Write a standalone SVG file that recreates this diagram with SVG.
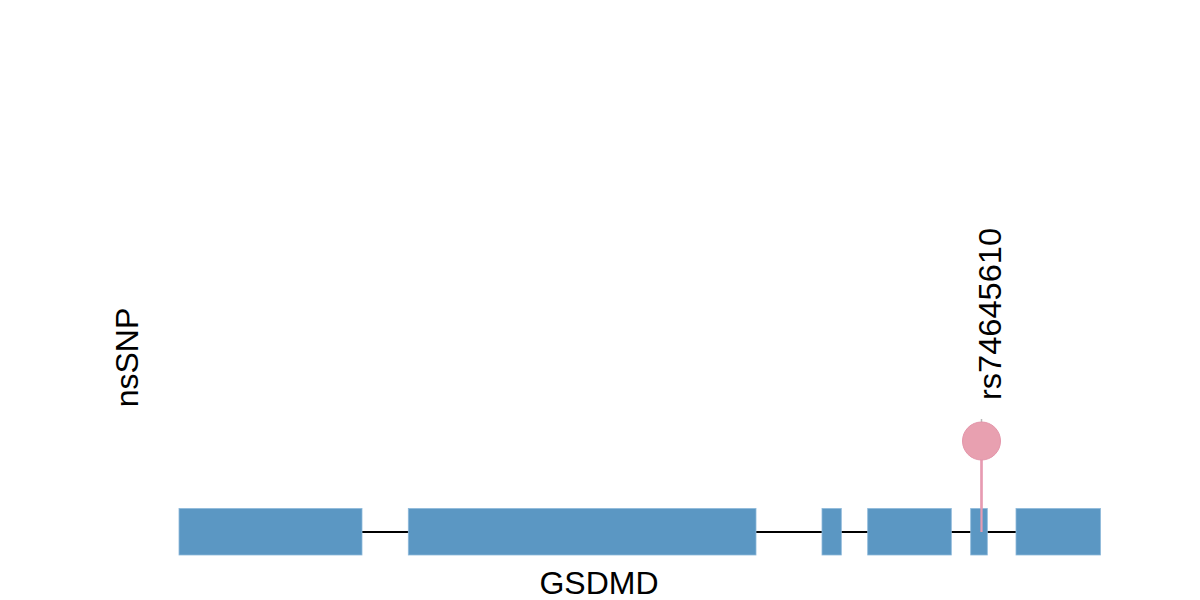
<svg xmlns="http://www.w3.org/2000/svg" width="1200" height="600" viewBox="0 0 1200 600">
<style>
.exon{fill:#5b97c3;stroke:#8db8da;stroke-width:0.8}
.lbl{font-family:"Liberation Sans",Arial,sans-serif;font-size:32px;fill:#000}
.intron{stroke:#000;stroke-width:2}
</style>
<rect width="1200" height="600" fill="#fff"/>
<g id="connectors">
<line class="intron" x1="362" y1="532" x2="1016" y2="532"/>
<line x1="981.5" y1="419" x2="981.5" y2="423" stroke="#b8b8b8" stroke-width="1.5"/>
<line x1="981.5" y1="441" x2="981.5" y2="532" stroke="#e79bb2" stroke-width="2.2"/>
</g>
<g id="exon1"><rect class="exon" x="179" y="508.5" width="183" height="46.5"/></g>
<g id="exon2"><rect class="exon" x="408.3" y="508.5" width="347.7" height="46.5"/></g>
<g id="exon3"><rect class="exon" x="822" y="508.5" width="19.3" height="46.5"/></g>
<g id="exon4"><rect class="exon" x="867.7" y="508.5" width="83.6" height="46.5"/></g>
<g id="exon5"><rect class="exon" x="970.7" y="508.5" width="16.6" height="46.5"/></g>
<g id="exon6"><rect class="exon" x="1016" y="508.5" width="84.5" height="46.5"/></g>
<g id="snp"><line x1="981.5" y1="441" x2="981.5" y2="532" stroke="#e79bb2" stroke-width="2.2"/><circle cx="981.5" cy="441" r="19" fill="#e8a0b0" stroke="#e495aa" stroke-width="1"/></g>
<g id="labels">
<text class="lbl" x="599" y="594" text-anchor="middle">GSDMD</text>
<text class="lbl" transform="translate(1001,400) rotate(-90)" textLength="172" lengthAdjust="spacingAndGlyphs">rs74645610</text>
<text class="lbl" transform="translate(138,357.5) rotate(-90)" text-anchor="middle">nsSNP</text>
</g>
</svg>
